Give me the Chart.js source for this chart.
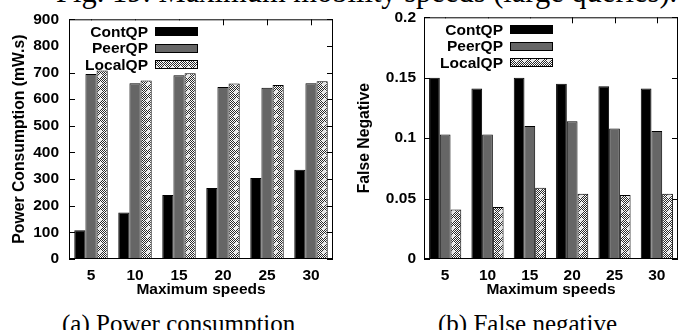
<!DOCTYPE html>
<html>
<head>
<meta charset="utf-8">
<script src="https://cdn.jsdelivr.net/npm/chart.js@4.4.0/dist/chart.umd.min.js"></script>
<style>
  html, body { margin: 0; padding: 0; background: #fff; overflow: hidden; }
  #wrap { position: relative; width: 689px; height: 330px; overflow: hidden; }
  canvas { position: absolute; top: 0; }
  .cap { position: absolute; font-family: "Liberation Serif", "Times New Roman", serif; line-height: 1; white-space: nowrap; color: #000; }
</style>
</head>
<body>
<div id="wrap">
  <div class="cap" style="left:56px; top:-23px; font-size:30.5px;">Fig. 19: Maximum mobility speeds (large queries).</div>
  <canvas id="PowerChart" width="345" height="300" style="left:0"></canvas>
  <canvas id="FalseNegChart" width="344" height="300" style="left:345px"></canvas>
  <div class="cap" style="left:62px; top:311px; font-size:25px;">(a) Power consumption</div>
  <div class="cap" style="left:438px; top:311px; font-size:25px;">(b) False negative</div>
</div>
<script>
(function () {
  "use strict";

  // Data
  const speeds = ['5', '10', '15', '20', '25', '30'];
  const seriesNames = ['ContQP', 'PeerQP', 'LocalQP'];

  const powerContQP  = [108, 175, 240, 267, 304, 335];
  const powerPeerQP  = [695, 660, 690, 646, 643, 660];
  const powerLocalQP = [708, 670, 697, 659, 653, 667];
  const powerTicks   = [0, 100, 200, 300, 400, 500, 600, 700, 800, 900];

  const fnContQP  = [0.150, 0.141, 0.150, 0.145, 0.143, 0.141];
  const fnPeerQP  = [0.103, 0.103, 0.110, 0.114, 0.108, 0.106];
  const fnLocalQP = [0.041, 0.043, 0.059, 0.054, 0.053, 0.054];
  const fnTicks      = [0, 0.05, 0.1, 0.15, 0.2];
  const fnTickLabels = ['0', '0.05', '0.1', '0.15', '0.2'];

  // Styles
  const labelFont = { family: "'Liberation Sans', Arial, sans-serif", size: 15.5, weight: 'bold' };
  const titleFont = { family: "'Liberation Sans', Arial, sans-serif", size: 15.75, weight: 'bold' };
  const black = '#000';
  const peerGray = '#666666';

  // checker pattern like the gnuplot fill
  function checkerPattern() {
    const c = document.createElement('canvas');
    c.width = 8; c.height = 8;
    const g = c.getContext('2d');
    g.fillStyle = '#fff';
    g.fillRect(0, 0, 8, 8);
    g.fillStyle = '#2a2a2a';
    for (let y = 0; y < 8; y++) {
      for (let x = 0; x < 8; x++) {
        if ((x + y) % 2 === 0) g.fillRect(x, y, 1, 1);
      }
    }
    g.fillStyle = '#e4e4e4';
    g.fillRect(3, 2, 2, 4);
    g.fillRect(2, 3, 4, 2);
    return g.createPattern(c, 'repeat');
  }
  const localFill = checkerPattern();

  // frame, inner ticks and a gnuplot style key
  const gnuFrame = {
    id: 'gnuFrame',
    beforeDatasetsDraw(chart) {
      const { ctx, chartArea: a, scales } = chart;
      ctx.save();
      ctx.strokeStyle = black;
      ctx.lineWidth = 1;
      ctx.beginPath();
      scales.y.ticks.forEach(t => {
        const py = Math.round(scales.y.getPixelForValue(t.value)) + 0.5;
        ctx.moveTo(a.left, py); ctx.lineTo(a.left + 6, py);
        ctx.moveTo(a.right - 6, py); ctx.lineTo(a.right, py);
      });
      scales.x.ticks.forEach((t, i) => {
        const px = Math.round(scales.x.getPixelForValue(i)) + 0.5;
        ctx.moveTo(px, a.top); ctx.lineTo(px, a.top + 6);
        ctx.moveTo(px, a.bottom); ctx.lineTo(px, a.bottom - 6);
      });
      ctx.stroke();
      // opaque key area
      ctx.fillStyle = '#fff';
      ctx.fillRect(a.left + 1, a.top + 1, 132, 52);
      ctx.restore();
    },
    afterDatasetsDraw(chart) {
      const { ctx, chartArea: a } = chart;
      ctx.save();
      ctx.font = 'bold 15.5px "Liberation Sans", Arial, sans-serif';
      ctx.textAlign = 'right';
      ctx.textBaseline = 'middle';
      chart.data.datasets.forEach((ds, i) => {
        const cy = a.top + 12 + i * 16.5;
        ctx.fillStyle = black;
        ctx.fillText(ds.label, a.left + 79, cy + 1);
        ctx.fillStyle = ds.backgroundColor;
        ctx.fillRect(a.left + 86, Math.round(cy - 4), 43, 9);
        ctx.strokeStyle = black;
        ctx.lineWidth = 1;
        ctx.strokeRect(a.left + 86.5, Math.round(cy - 4) + 0.5, 42, 8);
      });
      ctx.strokeStyle = black;
      ctx.lineWidth = 1;
      ctx.strokeRect(a.left + 0.5, a.top + 0.5, a.right - a.left - 1, a.bottom - a.top - 1);
      ctx.restore();
    }
  };

  function barSet(label, data, fill) {
    return {
      label: label,
      data: data,
      backgroundColor: fill,
      borderColor: black,
      borderWidth: 1,
      barPercentage: 1.0,
      categoryPercentage: 0.76
    };
  }

  function makeChart(id, sets, yMin, yMax, ticks, tickLabel, yTitle, axisWidth, tickPad, padRight) {
    const el = document.getElementById(id);
    if (el == null) return;
    new Chart(el.getContext('2d'), {
      type: 'bar',
      data: { labels: speeds, datasets: sets },
      plugins: [gnuFrame],
      options: {
        responsive: false,
        animation: false,
        layout: { padding: { top: 16, right: padRight, left: 0, bottom: 0 } },
        plugins: { legend: { display: false }, tooltip: { enabled: false } },
        scales: {
          x: {
            grid: { display: false, drawTicks: false },
            border: { display: false },
            ticks: { color: black, font: labelFont, padding: 7, maxRotation: 0, autoSkip: false },
            title: { display: true, text: 'Maximum speeds', color: black, font: labelFont, padding: { top: 0, bottom: 1 } },
            afterFit: s => { s.height = 41; }
          },
          y: {
            min: yMin,
            max: yMax,
            grid: { display: false, drawTicks: false },
            border: { display: false },
            afterBuildTicks: s => { s.ticks = ticks.map(v => ({ value: v })); },
            ticks: { color: black, font: labelFont, padding: tickPad, callback: tickLabel },
            title: { display: true, text: yTitle, color: black, font: titleFont, padding: { top: 10, bottom: 0 } },
            afterFit: s => { s.width = axisWidth; }
          }
        }
      }
    });
  }

  // POWER CONSUMPTION
  makeChart('PowerChart', [
    barSet(seriesNames[0], powerContQP, black),
    barSet(seriesNames[1], powerPeerQP, peerGray),
    barSet(seriesNames[2], powerLocalQP, localFill)
  ], 0, 900, powerTicks, v => String(v), 'Power Consumption (mW.s)', 69, 10, 12);

  // FALSE NEGATIVE
  makeChart('FalseNegChart', [
    barSet(seriesNames[0], fnContQP, black),
    barSet(seriesNames[1], fnPeerQP, peerGray),
    barSet(seriesNames[2], fnLocalQP, localFill)
  ], 0, 0.2, fnTicks, (v, i) => fnTickLabels[i], 'False Negative', 79, 8, 11);

})();
</script>
</body>
</html>
